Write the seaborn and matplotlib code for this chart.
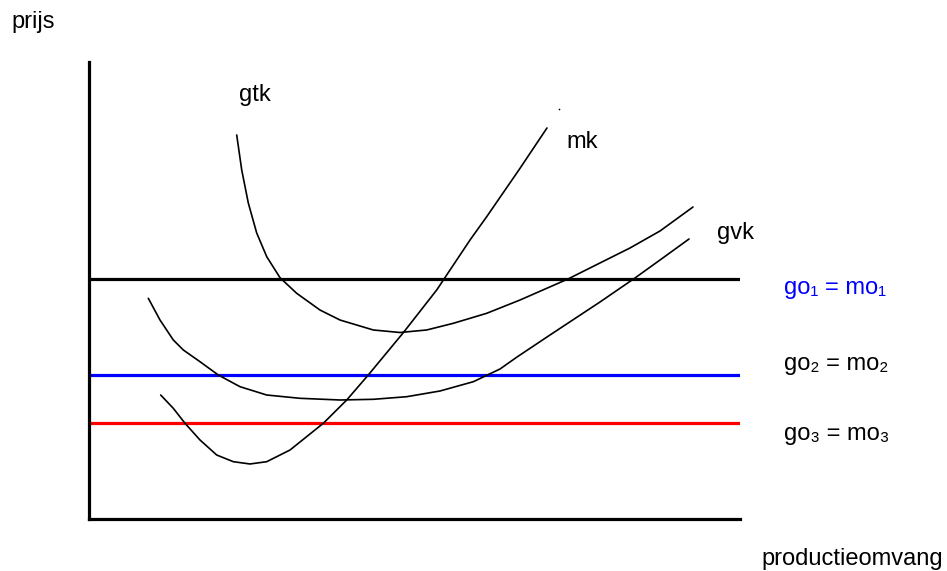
import matplotlib
matplotlib.use("Agg")
import matplotlib.pyplot as plt
import pandas as pd
import seaborn as sns

# curves (x = productieomvang, y = prijs, both 0-100)
gtk_x = [22.69, 23.46, 24.47, 25.76, 27.30, 29.34, 31.90, 35.48, 38.56, 43.67, 47.77, 51.87,
         55.96, 61.09, 66.21, 73.58, 78.49, 83.10, 87.71, 92.78]
gtk_y = [84.03, 76.37, 69.15, 62.58, 57.40, 52.80, 49.39, 45.73, 43.54, 41.36, 40.81, 41.36,
         42.82, 45.01, 47.92, 52.52, 56.02, 59.30, 63.02, 68.27]

gvk_x = [9.11, 10.91, 12.95, 14.49, 17.05, 19.86, 23.20, 27.30, 32.41, 38.56, 43.67, 48.80,
         53.92, 59.03, 63.13, 65.75, 70.81, 78.49, 83.87, 87.71, 92.17]
gvk_y = [48.29, 43.54, 39.17, 36.98, 34.42, 31.51, 28.95, 27.13, 26.41, 26.04, 26.19, 26.76,
         28.01, 30.04, 32.82, 35.45, 40.26, 47.48, 52.74, 56.67, 61.27]

mk_x = [11.01, 12.95, 14.75, 17.05, 19.62, 22.17, 24.73, 27.30, 30.88, 35.99, 39.59, 42.90,
        48.28, 53.41, 58.53, 61.09, 66.21, 70.35]
mk_y = [27.13, 24.22, 20.94, 17.29, 14.00, 12.54, 12.04, 12.54, 15.10, 20.94, 26.04, 31.51,
        40.77, 50.11, 61.05, 66.15, 76.74, 85.56]

# price levels go = mo
go_levels = [52.5, 31.5, 21.0]
go_colors = ["black", "#0000ff", "#ff0000"]
go_labels = ["go\u2081 = mo\u2081", "go\u2082 = mo\u2082", "go\u2083 = mo\u2083"]
go_label_colors = ["#0000ff", "black", "black"]

stray_dot = (72.2, 89.7)

sns.set_style("white")
plt.rcParams["font.family"] = ["Liberation Sans", "DejaVu Sans"]

fig = plt.figure(figsize=(9.47, 5.71), dpi=100)
ax = fig.add_axes([89 / 947, 52 / 571, 651 / 947, 457 / 571])

for xs, ys in [(gtk_x, gtk_y), (gvk_x, gvk_y), (mk_x, mk_y)]:
    df = pd.DataFrame({"x": xs, "y": ys})
    sns.lineplot(data=df, x="x", y="y", sort=False, estimator=None,
                 color="black", linewidth=1.2, ax=ax,
                 solid_joinstyle="round", solid_capstyle="round")

for lvl, c in zip(go_levels, go_colors):
    ax.axhline(lvl, color=c, linewidth=2.3, zorder=1)

ax.scatter([stray_dot[0]], [stray_dot[1]], s=1.5, color="black", linewidths=0)

ax.set_xlim(0, 100)
ax.set_ylim(0, 100)
ax.set_xticks([])
ax.set_yticks([])
ax.set_xlabel("")
ax.set_ylabel("")
for side in ["top", "right"]:
    ax.spines[side].set_visible(False)
for side in ["left", "bottom"]:
    ax.spines[side].set_color("black")
    ax.spines[side].set_linewidth(2.3)

fs = 17
def ftext(px, py, s, color="black", **kw):
    fig.text(px / 947, 1 - py / 571, s, fontsize=fs, color=color, **kw)

ftext(33, 22, "prijs", ha="center", va="center")
ftext(852, 559, "productieomvang", ha="center", va="center")
ftext(255, 95, "gtk", ha="center", va="center")
ftext(582, 142, "mk", ha="center", va="center")
ftext(735, 233, "gvk", ha="center", va="center")
for py, s, c in zip([288, 364, 434], go_labels, go_label_colors):
    ftext(784, py, s, color=c, ha="left", va="center")

fig.savefig("out.png", dpi=100)
